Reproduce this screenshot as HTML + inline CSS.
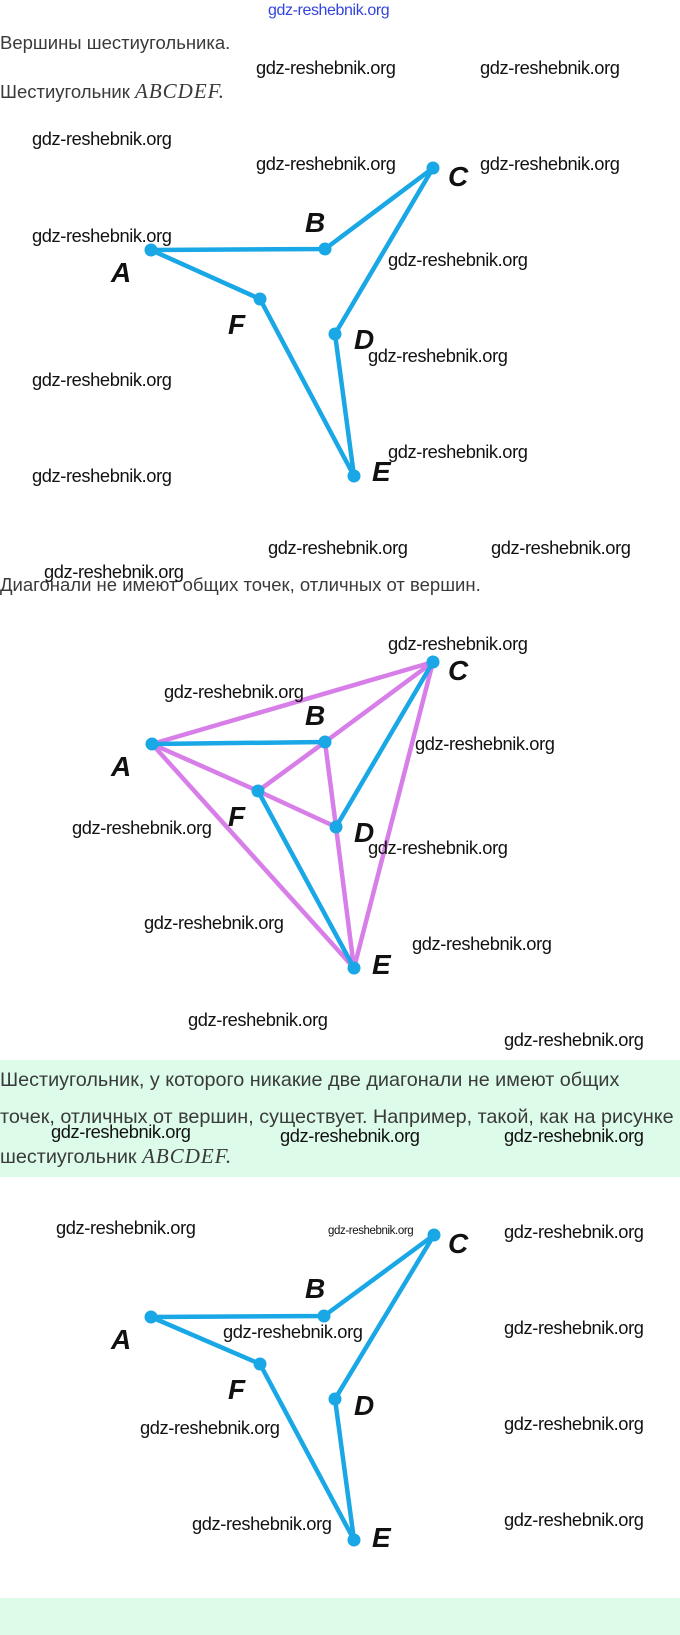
<!DOCTYPE html>
<html><head><meta charset="utf-8"><style>
html,body{margin:0;padding:0;background:#fff;}
body{width:680px;height:1635px;position:relative;overflow:hidden;font-family:"Liberation Sans",sans-serif;}
.t{position:absolute;left:0;font-size:18.5px;color:#3a3a3a;white-space:nowrap;line-height:22px;}
.t2{font-size:19.8px;}
.m{font-family:"Liberation Serif",serif;font-style:italic;font-size:21px;letter-spacing:1px;}
.w{position:absolute;font-size:18.3px;color:#111;white-space:nowrap;line-height:20px;letter-spacing:-0.4px;}
.g{position:absolute;left:0;width:680px;background:#dcfbe9;}
svg{position:absolute;left:0;top:0;}
.L{font-family:"Liberation Sans",sans-serif;font-weight:bold;font-style:italic;font-size:28px;fill:#111;}
</style></head><body>
<div class="g" style="top:1060px;height:117px"></div>
<div class="g" style="top:1598px;height:37px"></div>
<div class="w" style="left:268px;top:1px;color:#3344dd;font-size:16px;">gdz-reshebnik.org</div>
<div class="t" style="top:32px">Вершины шестиугольника.</div>
<div class="t" style="top:80px">Шестиугольник <span class="m">ABCDEF.</span></div>
<div class="t" style="top:574px">Диагонали не имеют общих точек, отличных от вершин.</div>
<div class="t t2" style="top:1069px">Шестиугольник, у которого никакие две диагонали не имеют общих</div>
<div class="t t2" style="top:1106px">точек, отличных от вершин, существует. Например, такой, как на рисунке</div>
<div class="t t2" style="top:1145px">шестиугольник <span class="m">ABCDEF.</span></div>
<svg width="680" height="1635" viewBox="0 0 680 1635">
<g stroke="#19a7e6" stroke-width="4.5" fill="none" stroke-linejoin="round">
<polyline points="151,250 325,249 433,168 335,334 354,476 260,299 151,250"/>
</g>
<g fill="#19a7e6">
<circle cx="151" cy="250" r="6.5"/><circle cx="325" cy="249" r="6.5"/><circle cx="433" cy="168" r="6.5"/><circle cx="335" cy="334" r="6.5"/><circle cx="354" cy="476" r="6.5"/><circle cx="260" cy="299" r="6.5"/>
</g>
<g class="L">
<text x="111" y="282">A</text><text x="305" y="232">B</text><text x="448" y="186">C</text><text x="228" y="334">F</text><text x="354" y="349">D</text><text x="372" y="481">E</text>
</g>
<g stroke="#d77ee8" stroke-width="4.5" fill="none" stroke-linecap="round">
<line x1="152" y1="744" x2="433" y2="662"/><line x1="325" y1="742" x2="433" y2="662"/>
<line x1="152" y1="744" x2="258" y2="791"/><line x1="152" y1="744" x2="354" y2="968"/>
<line x1="325" y1="742" x2="258" y2="791"/><line x1="325" y1="742" x2="336" y2="827"/>
<line x1="258" y1="791" x2="336" y2="827"/><line x1="336" y1="827" x2="354" y2="968"/>
<line x1="433" y1="662" x2="354" y2="968"/>
</g>
<g stroke="#19a7e6" stroke-width="4.5" fill="none">
<line x1="152" y1="744" x2="325" y2="742"/><line x1="433" y1="662" x2="336" y2="827"/><line x1="258" y1="791" x2="354" y2="968"/>
</g>
<g fill="#19a7e6">
<circle cx="152" cy="744" r="6.5"/><circle cx="325" cy="742" r="6.5"/><circle cx="433" cy="662" r="6.5"/><circle cx="336" cy="827" r="6.5"/><circle cx="354" cy="968" r="6.5"/><circle cx="258" cy="791" r="6.5"/>
</g>
<g class="L">
<text x="111" y="776">A</text><text x="305" y="725">B</text><text x="448" y="680">C</text><text x="228" y="826">F</text><text x="354" y="842">D</text><text x="372" y="974">E</text>
</g>
<g stroke="#19a7e6" stroke-width="4.5" fill="none" stroke-linejoin="round">
<polyline points="151,1317 324,1316 434,1235 335,1399 354,1540 260,1364 151,1317"/>
</g>
<g fill="#19a7e6">
<circle cx="151" cy="1317" r="6.5"/><circle cx="324" cy="1316" r="6.5"/><circle cx="434" cy="1235" r="6.5"/><circle cx="335" cy="1399" r="6.5"/><circle cx="354" cy="1540" r="6.5"/><circle cx="260" cy="1364" r="6.5"/>
</g>
<g class="L">
<text x="111" y="1349">A</text><text x="305" y="1298">B</text><text x="448" y="1253">C</text><text x="228" y="1399">F</text><text x="354" y="1415">D</text><text x="372" y="1547">E</text>
</g>
</svg>
<div class="w" style="left:256px;top:58px">gdz-reshebnik.org</div>
<div class="w" style="left:480px;top:58px">gdz-reshebnik.org</div>
<div class="w" style="left:32px;top:129px">gdz-reshebnik.org</div>
<div class="w" style="left:256px;top:154px">gdz-reshebnik.org</div>
<div class="w" style="left:480px;top:154px">gdz-reshebnik.org</div>
<div class="w" style="left:32px;top:226px">gdz-reshebnik.org</div>
<div class="w" style="left:388px;top:250px">gdz-reshebnik.org</div>
<div class="w" style="left:368px;top:346px">gdz-reshebnik.org</div>
<div class="w" style="left:32px;top:370px">gdz-reshebnik.org</div>
<div class="w" style="left:388px;top:442px">gdz-reshebnik.org</div>
<div class="w" style="left:32px;top:466px">gdz-reshebnik.org</div>
<div class="w" style="left:268px;top:538px">gdz-reshebnik.org</div>
<div class="w" style="left:491px;top:538px">gdz-reshebnik.org</div>
<div class="w" style="left:44px;top:562px">gdz-reshebnik.org</div>
<div class="w" style="left:388px;top:634px">gdz-reshebnik.org</div>
<div class="w" style="left:164px;top:682px">gdz-reshebnik.org</div>
<div class="w" style="left:415px;top:734px">gdz-reshebnik.org</div>
<div class="w" style="left:72px;top:818px">gdz-reshebnik.org</div>
<div class="w" style="left:368px;top:838px">gdz-reshebnik.org</div>
<div class="w" style="left:144px;top:913px">gdz-reshebnik.org</div>
<div class="w" style="left:412px;top:934px">gdz-reshebnik.org</div>
<div class="w" style="left:188px;top:1010px">gdz-reshebnik.org</div>
<div class="w" style="left:504px;top:1030px">gdz-reshebnik.org</div>
<div class="w" style="left:51px;top:1122px">gdz-reshebnik.org</div>
<div class="w" style="left:280px;top:1126px">gdz-reshebnik.org</div>
<div class="w" style="left:504px;top:1126px">gdz-reshebnik.org</div>
<div class="w" style="left:56px;top:1218px">gdz-reshebnik.org</div>
<div class="w" style="left:328px;top:1224px;font-size:11.5px;line-height:14px">gdz-reshebnik.org</div>
<div class="w" style="left:504px;top:1222px">gdz-reshebnik.org</div>
<div class="w" style="left:223px;top:1322px">gdz-reshebnik.org</div>
<div class="w" style="left:504px;top:1318px">gdz-reshebnik.org</div>
<div class="w" style="left:140px;top:1418px">gdz-reshebnik.org</div>
<div class="w" style="left:504px;top:1414px">gdz-reshebnik.org</div>
<div class="w" style="left:192px;top:1514px">gdz-reshebnik.org</div>
<div class="w" style="left:504px;top:1510px">gdz-reshebnik.org</div>
</body></html>
